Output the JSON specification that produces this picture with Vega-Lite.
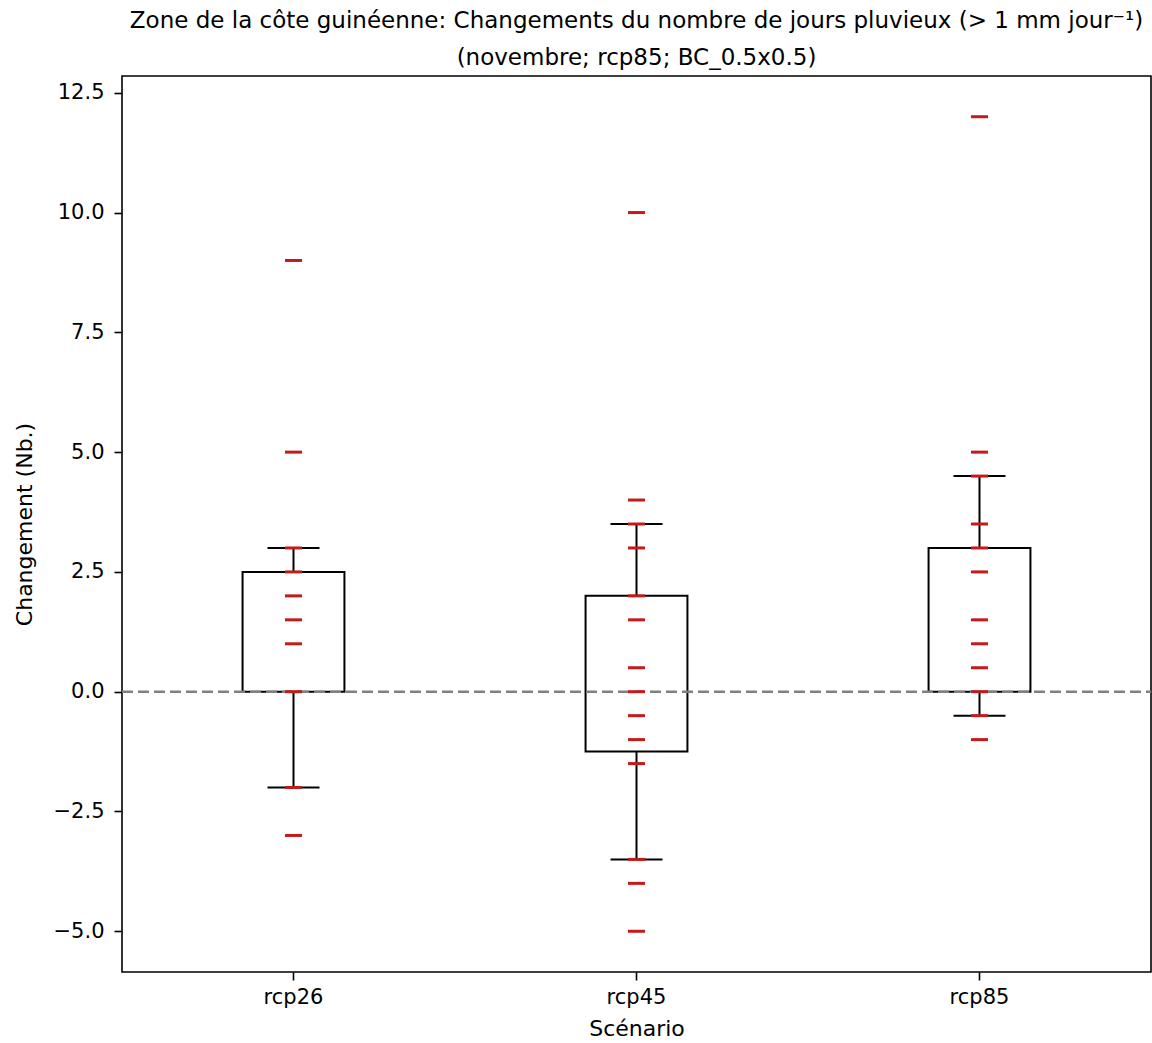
{
  "$schema": "https://vega.github.io/schema/vega-lite/v6.json",
  "width": 1029,
  "height": 896,
  "autosize": {"type": "none"},
  "padding": {"left": 122, "top": 76, "right": 1, "bottom": 71},
  "background": "white",
  "title": {
    "text": ["Zone de la côte guinéenne: Changements du nombre de jours pluvieux (> 1 mm jour⁻¹)", "(novembre; rcp85; BC_0.5x0.5)"],
    "font": "DejaVu Sans",
    "fontSize": 23,
    "fontWeight": "normal",
    "color": "black",
    "anchor": "middle",
    "lineHeight": 37,
    "offset": 6
  },
  "config": {
    "view": {"stroke": "black", "strokeWidth": 1.6},
    "axis": {
      "labelFont": "DejaVu Sans",
      "titleFont": "DejaVu Sans",
      "labelFontSize": 21,
      "titleFontSize": 22,
      "titleFontWeight": "normal",
      "labelColor": "black",
      "titleColor": "black",
      "tickColor": "black",
      "tickSize": 8,
      "tickWidth": 1.6,
      "domain": false,
      "grid": false
    }
  },
  "datasets": {
    "points": [
      {"scenario": "rcp26", "value": 9},
      {"scenario": "rcp26", "value": 5},
      {"scenario": "rcp26", "value": 3},
      {"scenario": "rcp26", "value": 2.5},
      {"scenario": "rcp26", "value": 2},
      {"scenario": "rcp26", "value": 1.5},
      {"scenario": "rcp26", "value": 1},
      {"scenario": "rcp26", "value": 0},
      {"scenario": "rcp26", "value": -2},
      {"scenario": "rcp26", "value": -3},
      {"scenario": "rcp45", "value": 10},
      {"scenario": "rcp45", "value": 4},
      {"scenario": "rcp45", "value": 3.5},
      {"scenario": "rcp45", "value": 3},
      {"scenario": "rcp45", "value": 2},
      {"scenario": "rcp45", "value": 1.5},
      {"scenario": "rcp45", "value": 0.5},
      {"scenario": "rcp45", "value": 0},
      {"scenario": "rcp45", "value": -0.5},
      {"scenario": "rcp45", "value": -1},
      {"scenario": "rcp45", "value": -1.5},
      {"scenario": "rcp45", "value": -3.5},
      {"scenario": "rcp45", "value": -4},
      {"scenario": "rcp45", "value": -5},
      {"scenario": "rcp85", "value": 12},
      {"scenario": "rcp85", "value": 5},
      {"scenario": "rcp85", "value": 4.5},
      {"scenario": "rcp85", "value": 3.5},
      {"scenario": "rcp85", "value": 3},
      {"scenario": "rcp85", "value": 2.5},
      {"scenario": "rcp85", "value": 1.5},
      {"scenario": "rcp85", "value": 1},
      {"scenario": "rcp85", "value": 0.5},
      {"scenario": "rcp85", "value": 0},
      {"scenario": "rcp85", "value": -0.5},
      {"scenario": "rcp85", "value": -1}
    ],
    "boxes": [
      {"scenario": "rcp26", "q1": 0, "q3": 2.5, "lo": -2, "hi": 3},
      {"scenario": "rcp45", "q1": -1.25, "q3": 2, "lo": -3.5, "hi": 3.5},
      {"scenario": "rcp85", "q1": 0, "q3": 3, "lo": -0.5, "hi": 4.5}
    ]
  },
  "encoding": {
    "x": {
      "field": "scenario",
      "type": "nominal",
      "scale": {"type": "band", "domain": ["rcp26", "rcp45", "rcp85"], "paddingInner": 0, "paddingOuter": 0},
      "axis": {"title": "Scénario", "labelAngle": 0, "labelPadding": 6, "titlePadding": 11}
    }
  },
  "layer": [
    {
      "data": {"name": "boxes"},
      "mark": {"type": "bar", "fill": "white", "stroke": "black", "strokeWidth": 2, "width": {"band": 0.297}},
      "encoding": {
        "y": {
          "field": "q1",
          "type": "quantitative",
          "scale": {"domain": [-5.85, 12.85], "nice": false, "zero": false},
          "axis": {
            "title": "Changement (Nb.)",
            "values": [-5, -2.5, 0, 2.5, 5, 7.5, 10, 12.5],
            "format": ".1f",
            "labelPadding": 10,
            "titlePadding": 17
          }
        },
        "y2": {"field": "q3"}
      }
    },
    {
      "data": {"name": "boxes"},
      "mark": {"type": "rule", "color": "black", "strokeWidth": 2},
      "encoding": {"y": {"field": "q3", "type": "quantitative"}, "y2": {"field": "hi"}}
    },
    {
      "data": {"name": "boxes"},
      "mark": {"type": "rule", "color": "black", "strokeWidth": 2},
      "encoding": {"y": {"field": "lo", "type": "quantitative"}, "y2": {"field": "q1"}}
    },
    {
      "data": {"name": "boxes"},
      "mark": {"type": "tick", "color": "black", "size": 52, "thickness": 2, "opacity": 1},
      "encoding": {"y": {"field": "hi", "type": "quantitative"}}
    },
    {
      "data": {"name": "boxes"},
      "mark": {"type": "tick", "color": "black", "size": 52, "thickness": 2, "opacity": 1},
      "encoding": {"y": {"field": "lo", "type": "quantitative"}}
    },
    {
      "data": {"values": [{}]},
      "mark": {"type": "rule", "color": "#808080", "strokeWidth": 2.5, "strokeDash": [11, 5]},
      "encoding": {"y": {"datum": 0, "type": "quantitative"}, "x": {"value": 0}, "x2": {"value": 1029}}
    },
    {
      "data": {"name": "points"},
      "mark": {"type": "tick", "color": "#c41a1a", "size": 17, "thickness": 3, "opacity": 1},
      "encoding": {"y": {"field": "value", "type": "quantitative"}}
    }
  ]
}
